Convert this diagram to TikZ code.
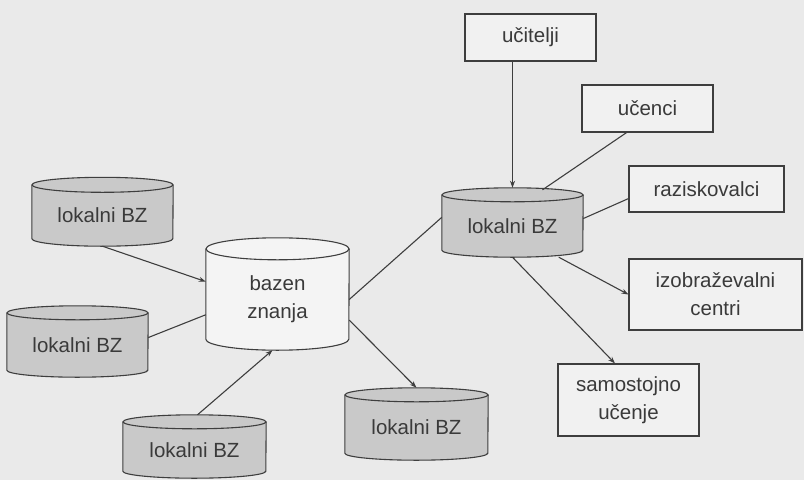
\documentclass[tikz,border=0pt]{standalone}
\usepackage{fontspec}
\setmainfont{Liberation Sans}
\usetikzlibrary{arrows.meta,backgrounds}
\definecolor{bgc}{HTML}{EAEAEA}
\definecolor{boxc}{HTML}{F1F1F1}
\definecolor{cylc}{HTML}{C9C9C9}
\definecolor{whc}{HTML}{F4F4F4}
\definecolor{linec}{HTML}{3E3E3E}
\definecolor{txtc}{HTML}{3A3A3A}
% name, half width, y radius, fill
\newcommand{\cylshape}[4]{%
  \fill[#4] (#1.north west) -- ([yshift=#3]#1.south west)
    arc[start angle=180,end angle=360,x radius=#2,y radius=#3] -- (#1.north east) -- cycle;
  \draw[edge] (#1.north west) -- ([yshift=#3]#1.south west)
    arc[start angle=180,end angle=360,x radius=#2,y radius=#3] -- (#1.north east);
  \filldraw[edge,fill=#4] (#1.north) ellipse [x radius=#2, y radius=#3];
}
\begin{document}
\begin{tikzpicture}[x=1pt,y=-1pt,
  txt/.style={font=\fontsize{20.5}{28}\selectfont, text=txtc, align=center, inner sep=0pt},
  cylnode/.style={txt},
  box/.style={txt, draw=linec, line width=1.1pt, fill=boxc},
  edge/.style={draw=linec, line width=1.1pt},
  arr/.style={edge, -{Stealth[length=7pt,width=5pt]}}]
\useasboundingbox (0,0) rectangle (804,480);

% cylinder nodes (rectangle from top-ellipse centre to bottom)
\node[cylnode, minimum width=141pt, minimum height=61pt] (lz1) at (102.5,215.5) {lokalni BZ};
\node[cylnode, minimum width=141pt, minimum height=64pt] (lz2) at (77.5,345) {lokalni BZ};
\node[cylnode, minimum width=143pt, minimum height=56pt] (lz3) at (194.5,450) {lokalni BZ};
\node[cylnode, minimum width=143pt, minimum height=65pt] (lz4) at (416.5,427.5) {lokalni BZ};
\node[cylnode, minimum width=141pt, minimum height=62pt] (lzr) at (512.5,226) {lokalni BZ};
\node[cylnode, minimum width=143pt, minimum height=101pt] (bazen) at (277.5,299.5) {bazen\\znanja};

% boxes
\node[box, minimum width=131pt, minimum height=47pt] (ucitelji) at (530.5,37.5) {učitelji};
\node[box, minimum width=131pt, minimum height=47pt] (ucenci) at (647.5,108.5) {učenci};
\node[box, minimum width=155pt, minimum height=46pt] (razisk) at (706.5,189) {raziskovalci};
\node[box, minimum width=173pt, minimum height=71pt] (izobr) at (715.5,294.5) {izobraževalni\\centri};
\node[box, minimum width=141pt, minimum height=72pt] (samost) at (628.5,400) {samostojno\\učenje};

\begin{scope}[on background layer]
  \fill[bgc] (0,0) rectangle (804,480);
  \cylshape{lz1}{70.5pt}{7.5pt}{cylc}
  \cylshape{lz2}{70.5pt}{7pt}{cylc}
  \cylshape{lz3}{71.5pt}{7pt}{cylc}
  \cylshape{lz4}{71.5pt}{7pt}{cylc}
  \cylshape{lzr}{70.5pt}{7pt}{cylc}
  \cylshape{bazen}{71.5pt}{11pt}{whc}
\end{scope}

% connectors
\draw[arr] (lz1.south) -- (bazen.166);
\draw[edge] (lz2.6) -- (bazen.192);
\draw[arr] ([xshift=3pt,yshift=7pt]lz3.north) -- ([xshift=-5pt]bazen.south);
\draw[arr] (bazen.344) -- ([yshift=7pt]lz4.north);
\draw[edge] (bazen.east) -- (lzr.173);
\draw[arr] (lzr.north |- ucitelji.south) -- ([yshift=7pt]lzr.north);
\draw[edge] (ucenci.229) -- ([xshift=30pt,yshift=5pt]lzr.north);
\draw[edge] (razisk.187) -- (lzr.6);
\draw[arr] (lzr.-34) -- (izobr.west);
\draw[arr] (lzr.south) -- ([xshift=-13.5pt]samost.north);
\end{tikzpicture}
\end{document}
